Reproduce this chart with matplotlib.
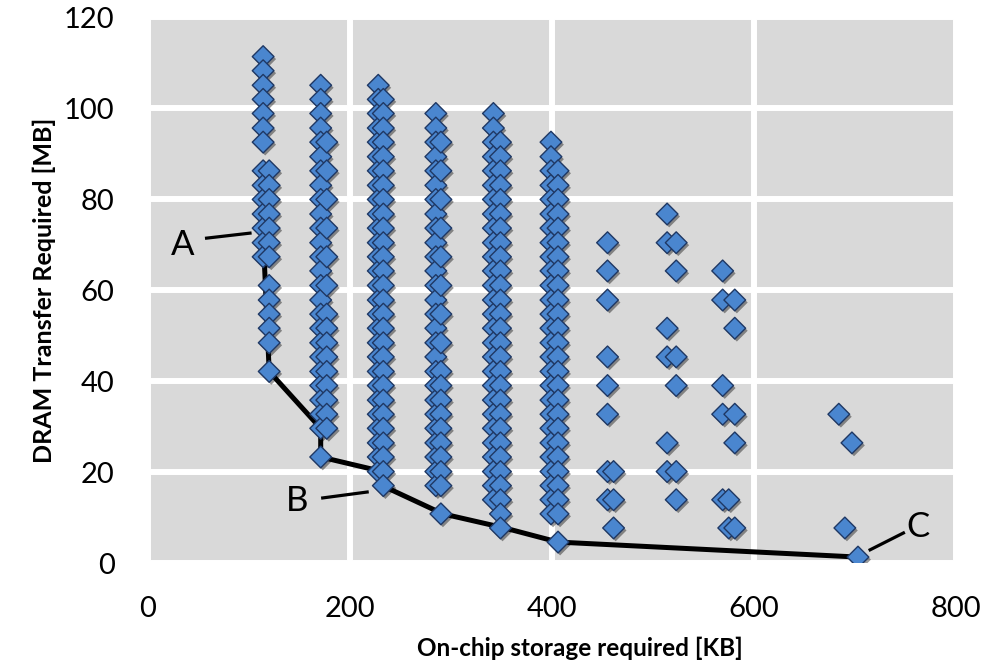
import matplotlib
matplotlib.use("Agg")
import matplotlib.pyplot as plt
import matplotlib.patheffects as pe

# design points: (on-chip KB, list of DRAM MB) per sub-column
col_x = [114, 120, 171, 177, 228, 233, 285, 290, 342, 349, 399, 406,
         455, 461, 514, 523, 569, 575, 581, 684, 690, 697, 703]
col_y = [
    [111.3, 108.2, 105.0, 101.9, 98.8, 95.6, 92.5, 86.2, 83.0, 79.9, 76.7, 73.6, 70.4, 67.3],
    [86.2, 83.0, 79.9, 76.7, 73.6, 70.4, 67.3, 61.0, 57.8, 54.7, 51.6, 48.4, 42.1],
    [105.0, 101.9, 98.8, 95.6, 92.5, 89.3, 86.2, 83.0, 79.9, 76.7, 73.6, 70.4, 67.3, 64.2,
     61.0, 57.8, 54.7, 51.6, 48.4, 45.3, 42.1, 39.0, 35.8, 32.7, 29.6, 23.3],
    [92.5, 86.2, 79.9, 73.6, 67.3, 61.0, 54.7, 51.6, 48.4, 45.3, 42.1, 39.0, 35.8, 32.7, 29.6],
    [105.0, 101.9, 98.8, 95.6, 92.5, 89.3, 86.2, 83.0, 79.9, 76.7, 73.6, 70.4, 67.3, 64.2,
     61.0, 57.8, 54.7, 51.6, 48.4, 45.3, 42.1, 39.0, 35.8, 32.7, 29.6, 26.4, 23.3, 20.1],
    [101.9, 98.8, 95.6, 92.5, 89.3, 86.2, 83.0, 79.9, 76.7, 73.6, 70.4, 67.3, 64.2,
     61.0, 57.8, 54.7, 51.6, 48.4, 45.3, 42.1, 39.0, 35.8, 32.7, 29.6, 26.4, 23.3, 20.1, 17.0],
    [98.8, 95.6, 92.5, 89.3, 86.2, 83.0, 79.9, 76.7, 73.6, 70.4, 67.3, 64.2,
     61.0, 57.8, 54.7, 51.6, 48.4, 45.3, 42.1, 39.0, 35.8, 32.7, 29.6, 26.4, 23.3, 20.1, 17.0],
    [92.5, 86.2, 79.9, 73.6, 67.3, 61.0, 54.7, 48.4, 42.1, 39.0, 35.8, 32.7, 29.6,
     26.4, 23.3, 20.1, 17.0, 10.8],
    [98.8, 95.6, 92.5, 89.3, 86.2, 83.0, 79.9, 76.7, 73.6, 70.4, 67.3, 64.2,
     61.0, 57.8, 54.7, 51.6, 48.4, 45.3, 42.1, 39.0, 35.8, 32.7, 29.6, 26.4, 23.3, 20.1, 17.0, 13.9],
    [92.5, 89.3, 86.2, 83.0, 79.9, 76.7, 73.6, 70.4, 67.3, 64.2, 61.0, 57.8, 54.7, 51.6,
     48.4, 45.3, 42.1, 39.0, 35.8, 32.7, 29.6, 26.4, 23.3, 20.1, 17.0, 13.9, 10.8, 7.7],
    [92.5, 89.3, 86.2, 83.0, 79.9, 76.7, 73.6, 70.4, 67.3, 64.2, 61.0, 57.8, 54.7, 51.6,
     48.4, 45.3, 42.1, 39.0, 35.8, 32.7, 29.6, 26.4, 23.3, 20.1, 17.0, 13.9, 10.8],
    [86.2, 83.0, 79.9, 76.7, 73.6, 70.4, 67.3, 64.2, 61.0, 57.8, 54.7, 51.6,
     48.4, 45.3, 42.1, 39.0, 35.8, 32.7, 29.6, 26.4, 23.3, 20.1, 17.0, 13.9, 10.8, 4.6],
    [70.4, 64.2, 57.8, 45.3, 39.0, 32.7, 20.1, 13.9],
    [20.1, 13.9, 7.7],
    [76.7, 70.4, 51.6, 45.3, 26.4, 20.1],
    [70.4, 64.2, 45.3, 39.0, 20.1, 13.9],
    [64.2, 57.8, 39.0, 32.7, 13.9],
    [13.9, 7.7],
    [57.8, 51.6, 32.7, 26.4, 7.7],
    [32.7],
    [7.7],
    [26.4],
    [1.3],
]

# pareto frontier
front_x = [115, 120, 171, 171, 232, 232, 292, 353, 406, 703]
front_y = [67.3, 42.1, 29.6, 23.3, 20.1, 17.0, 10.8, 7.7, 4.6, 1.3]

xs, ys = [], []
for x, yl in zip(col_x, col_y):
    for y in yl:
        xs.append(x)
        ys.append(y)

plt.rcParams['font.family'] = ['Lato', 'DejaVu Sans']

fig = plt.figure(figsize=(9.84, 6.70), dpi=100)
ax = fig.add_axes([0.1504, 0.1597, 0.8211, 0.8149])
ax.set_facecolor('#d9d9d9')
for s in ax.spines.values():
    s.set_visible(False)
ax.grid(True, color='white', lw=4.3)
ax.set_axisbelow(True)

ax.plot(front_x, front_y, color='black', lw=3.6, zorder=2, solid_capstyle='butt')
sc = ax.scatter(xs, ys, marker='D', s=122, facecolor='#4a86cf', edgecolor='#1f3864',
                linewidths=1.0, zorder=3)
sc.set_path_effects([pe.SimplePatchShadow(offset=(1.5, -1.8), shadow_rgbFace='black', alpha=0.4),
                     pe.Normal()])

# labels A, B, C with leader lines
ax.plot([58, 101], [71.4, 72.5], color='black', lw=2.3, zorder=2)
ax.text(34, 70, 'A', fontsize=25, ha='center', va='center')
ax.plot([173, 217], [14.3, 15.6], color='black', lw=2.3, zorder=2)
ax.text(148, 13.6, 'B', fontsize=25, ha='center', va='center')
ax.plot([715, 748], [2.9, 6.6], color='black', lw=2.3, zorder=2)
ax.text(762, 8.0, 'C', fontsize=25, ha='center', va='center')

ax.set_xlim(0, 800)
ax.set_ylim(0, 120)
ax.set_xticks([0, 200, 400, 600, 800])
ax.set_yticks([0, 20, 40, 60, 80, 100, 120])
ax.tick_params(length=0, labelsize=21, pad=24)
ax.set_xlabel('On-chip storage required [KB]', fontsize=17.5, fontweight='bold')
ax.xaxis.set_label_coords(0.535, -0.135)
ax.set_ylabel('DRAM Transfer Required [MB]', fontsize=18, fontweight='bold', labelpad=6)

fig.savefig('out.png', dpi=100)
